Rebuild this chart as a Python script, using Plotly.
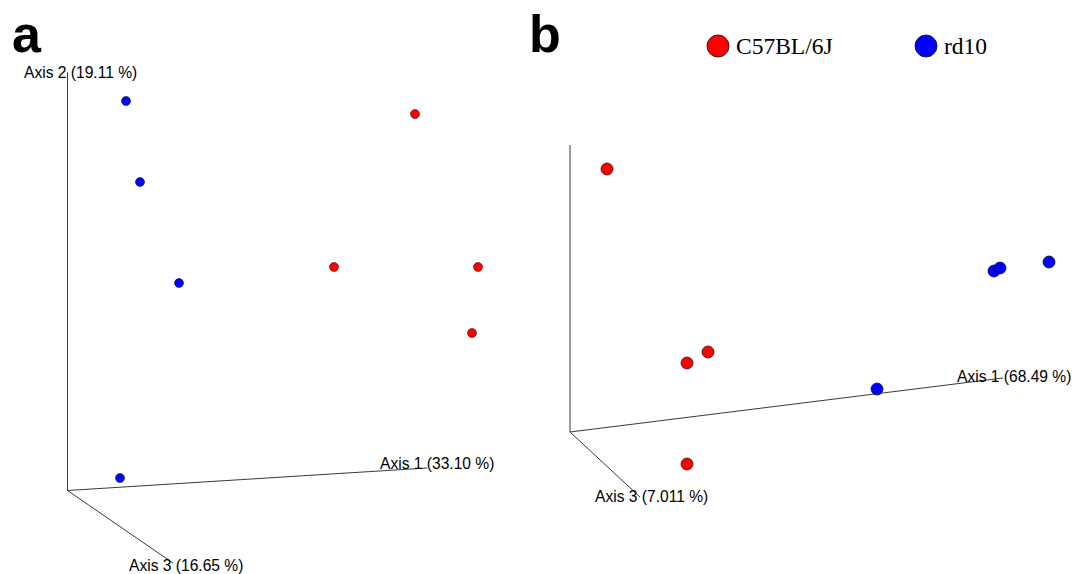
import plotly.graph_objects as go

# ---------------- data (projected PCoA coordinates, origin = axis origin) ----------------
groups = ["C57BL/6J", "rd10"]
group_colors = {"C57BL/6J": "#ff0000", "rd10": "#0000ff"}

# panel a
a_c57_x = [347.5, 266.5, 410.5, 404.5]
a_c57_y = [376.5, 223.5, 223.5, 157.5]
a_rd10_x = [58.5, 72.5, 111.5, 52.5]
a_rd10_y = [389.5, 308.5, 207.5, 12.5]
a_axis_labels = ["Axis 1 (33.10 %)", "Axis 2 (19.11 %)", "Axis 3 (16.65 %)"]
a_axis_end_x = [359.5, 0.0, 105.5]
a_axis_end_y = [22.5, 418.0, -72.5]

# panel b
b_c57_x = [37, 117, 138, 117]
b_c57_y = [263, 69, 80, -32]
b_rd10_x = [307, 424, 430, 479]
b_rd10_y = [43, 161, 164, 170]
b_axis_labels = ["Axis 1 (68.49 %)", "Axis 2 (15.30 %)", "Axis 3 (7.011 %)"]
b_axis_end_x = [433, 0, 70]
b_axis_end_y = [54, 287, -65]

# ---------------- layout constants ----------------
W, H = 1083, 574
SPLIT = 540
AXIS_LINE = "#3a3a3a"
LABEL_FONT = dict(family="Liberation Sans, Arial, sans-serif", size=15.6, color="#000000")

# label anchors (left edge, vertical centre) relative to each panel's origin
a_label_pos = [(310.5, 27.5), (-45.5, 418.5), (59.5, -74.5)]
b_label_pos = [(385, 56), (-45, 289), (23, -64)]

fig = go.Figure()


def add_panel(xa, ya, ends_x, ends_y, labels, label_pos, c_x, c_y, r_x, r_y, msize, lw):
    for ex, ey in zip(ends_x, ends_y):
        fig.add_trace(go.Scatter(x=[0, ex], y=[0, ey], mode="lines",
                                 line=dict(color=AXIS_LINE, width=1),
                                 xaxis=xa, yaxis=ya, showlegend=False, hoverinfo="skip"))
    for gx, gy, g in ((c_x, c_y, groups[0]), (r_x, r_y, groups[1])):
        fig.add_trace(go.Scatter(x=gx, y=gy, mode="markers", name=g,
                                 marker=dict(size=msize, color=group_colors[g],
                                             line=dict(color="#3a1010" if g == groups[0] else "#10103a", width=lw)),
                                 xaxis=xa, yaxis=ya, showlegend=False))
    for txt, (lx, ly) in zip(labels, label_pos):
        fig.add_annotation(x=lx, y=ly, xref=xa, yref=ya, text=txt, showarrow=False,
                           xanchor="left", yanchor="middle", font=LABEL_FONT)


add_panel("x", "y", a_axis_end_x, a_axis_end_y, a_axis_labels, a_label_pos,
          a_c57_x, a_c57_y, a_rd10_x, a_rd10_y, 9, 0.6)
add_panel("x2", "y2", b_axis_end_x, b_axis_end_y, b_axis_labels, b_label_pos,
          b_c57_x, b_c57_y, b_rd10_x, b_rd10_y, 12, 0.8)

# legend drawn in panel-b coordinates
leg_marker_x = [718 - 570, 926 - 570]
leg_marker_y = [432 - 46, 432 - 46]
for i, g in enumerate(groups):
    fig.add_trace(go.Scatter(x=[leg_marker_x[i]], y=[leg_marker_y[i]], mode="markers",
                             marker=dict(size=22, color=group_colors[g],
                                         line=dict(color="#222222", width=1)),
                             xaxis="x2", yaxis="y2", showlegend=False, hoverinfo="skip"))
    fig.add_annotation(x=leg_marker_x[i] + 16, y=leg_marker_y[i], xref="x2", yref="y2",
                       text=g, showarrow=False, xanchor="left", yanchor="middle",
                       font=dict(family="Liberation Serif, Times New Roman, serif", size=23.5, color="#000000"))

# panel letters
for letter, px in (("a", 10), ("b", 527)):
    fig.add_annotation(x=px / W, y=1 - 3 / H, xref="paper", yref="paper", text=letter,
                       showarrow=False, xanchor="left", yanchor="top",
                       font=dict(family="Liberation Sans, Arial, sans-serif", size=52, color="#000000",
                                 weight="bold"))

hidden = dict(visible=False, showgrid=False, zeroline=False, fixedrange=True)
ox_a, oy_a = 67.5, 490.5
ox_b, oy_b = 570, 432
fig.update_layout(
    width=W, height=H, margin=dict(l=0, r=0, t=0, b=0),
    paper_bgcolor="white", plot_bgcolor="white",
    xaxis=dict(domain=[0, SPLIT / W], range=[-ox_a, SPLIT - ox_a], **hidden),
    yaxis=dict(domain=[0, 1], range=[-(H - oy_a), oy_a], **hidden),
    xaxis2=dict(domain=[SPLIT / W, 1], range=[SPLIT - ox_b, W - ox_b], **hidden),
    yaxis2=dict(domain=[0, 1], range=[-(H - oy_b), oy_b], **hidden),
    showlegend=False,
)

fig.write_html("out.html")
